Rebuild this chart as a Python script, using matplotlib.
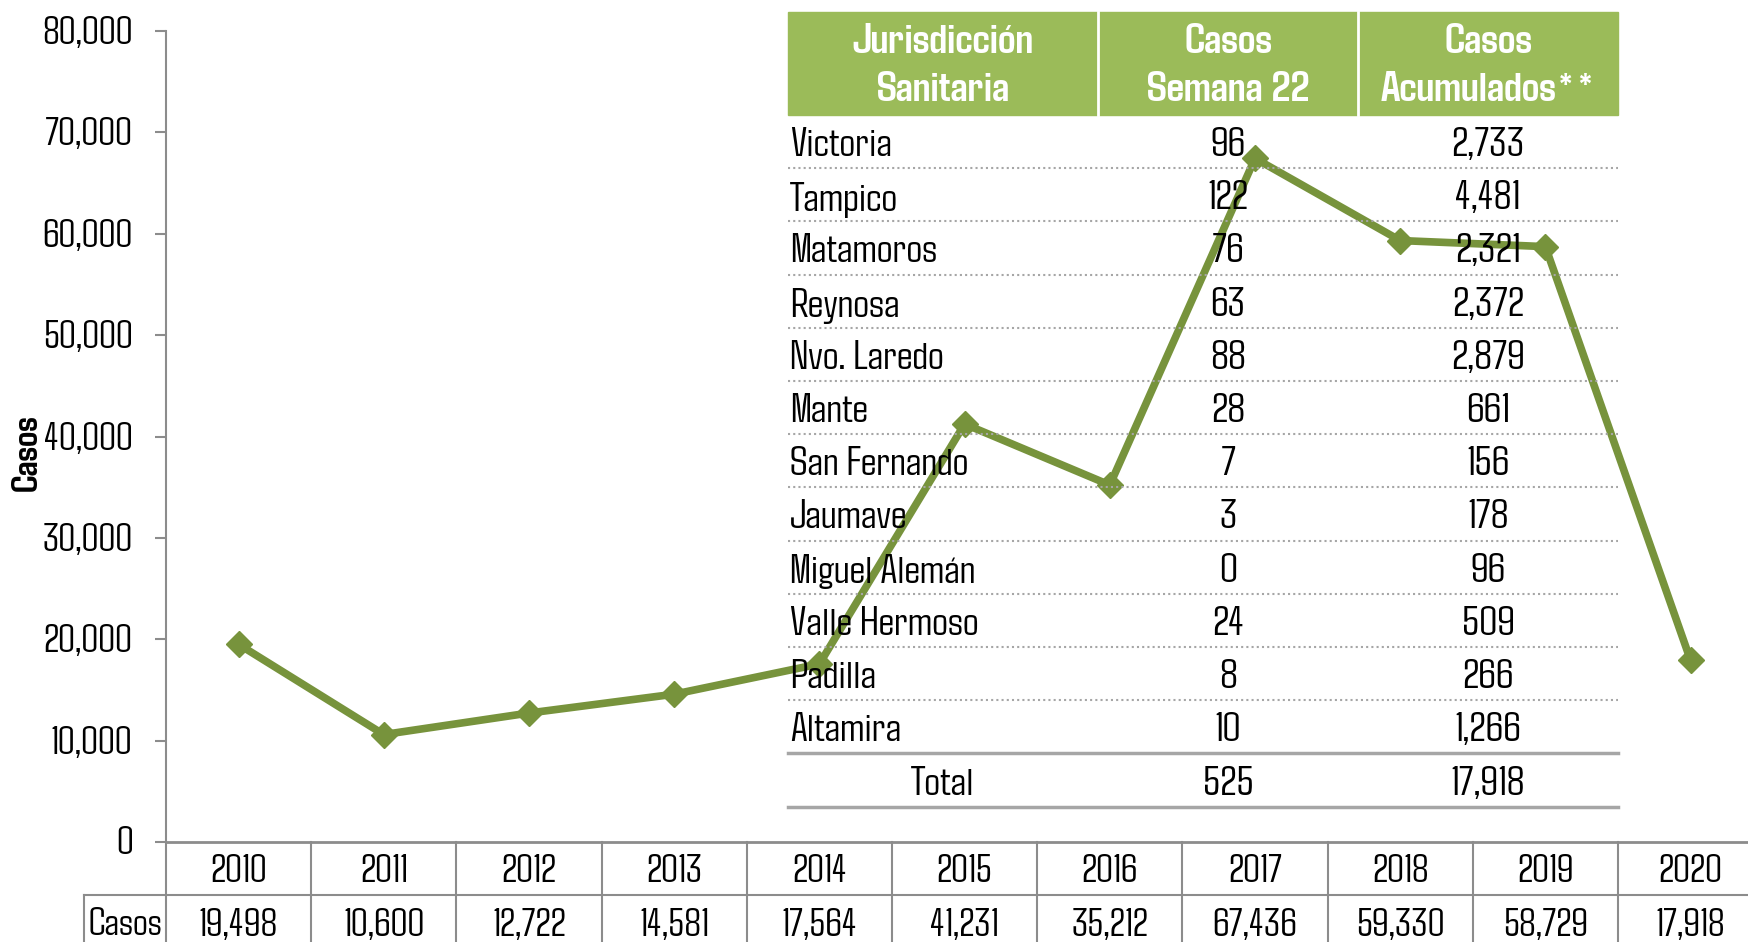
import matplotlib.pyplot as plt
from matplotlib.transforms import blended_transform_factory
from matplotlib.lines import Line2D
from matplotlib.patches import Rectangle

# --- data ---
years = [2010, 2011, 2012, 2013, 2014, 2015, 2016, 2017, 2018, 2019, 2020]
casos = [19498, 10600, 12722, 14581, 17564, 41231, 35212, 67436, 59330, 58729, 17918]

jurisdicciones = ['Victoria', 'Tampico', 'Matamoros', 'Reynosa', 'Nvo. Laredo', 'Mante',
                  'San Fernando', 'Jaumave', 'Miguel Alemán', 'Valle Hermoso', 'Padilla',
                  'Altamira']
semana22 = [96, 122, 76, 63, 88, 28, 7, 3, 0, 24, 8, 10]
acumulados = [2733, 4481, 2321, 2372, 2879, 661, 156, 178, 96, 509, 266, 1266]
encabezados = ['Jurisdicción\nSanitaria', 'Casos\nSemana 22', 'Casos\nAcumulados**']

# condensed face similar to the original, DejaVu as fallback
plt.rcParams['font.family'] = ['Agdasima', 'DejaVu Sans']

GREEN = '#77933C'
HEAD = '#9BBB59'
GRAY = '#8C8C8C'
W, H = 1748, 942
FS = 28      # axis / bottom table
FT = 30      # overlay table body
FH = 31      # overlay table header

fig = plt.figure(figsize=(W / 100, H / 100), dpi=100)


def fx(px):
    return px / W


def fy(py):
    return 1 - py / H


cell = 145.2
ax = fig.add_axes([fx(166), fy(842), len(years) * cell / W, (842 - 31) / H])
ax.set_xlim(-0.5, len(years) - 0.5)
ax.set_ylim(0, 80000)
ax.set_yticks(range(0, 80001, 10000))
ax.set_yticklabels([f'{v:,}' for v in range(0, 80001, 10000)])
ax.tick_params(axis='y', length=8, width=1.5, color=GRAY, pad=16, labelsize=FS)
ax.set_xticks([])
for s in ['top', 'right']:
    ax.spines[s].set_visible(False)
ax.spines['left'].set_color(GRAY)
ax.spines['left'].set_linewidth(1.5)
ax.spines['bottom'].set_color(GRAY)
ax.spines['bottom'].set_linewidth(2)
ax.set_ylabel('Casos', fontsize=27, fontweight='bold')
ax.yaxis.set_label_coords(-0.077, 0.48)

# --- overlay table (figure pixels) ---
tx0, tx1 = 788, 1618
c1, c2 = 1098, 1358
hy0, hy1 = 12, 115
rh = 53.2
dy = 5  # text sits a little below the row middle
fig.patches.append(Rectangle((fx(tx0), fy(hy1)), fx(tx1) - fx(tx0), fy(hy0) - fy(hy1),
                             transform=fig.transFigure, color=HEAD, zorder=1))
for cx in [c1, c2]:
    fig.lines.append(Line2D([fx(cx), fx(cx)], [fy(hy0), fy(hy1)], transform=fig.transFigure,
                            color='white', lw=2, zorder=2))
centers = [(tx0 + c1) / 2, (c1 + c2) / 2, (c2 + tx1) / 2]
for cx, t in zip(centers, encabezados):
    fig.text(fx(cx), fy((hy0 + hy1) / 2 + 3), t, color='white', fontsize=FH, fontweight='bold',
             ha='center', va='center', linespacing=1.45, zorder=3)

for i, (j, s, a) in enumerate(zip(jurisdicciones, semana22, acumulados)):
    yc = hy1 + rh * (i + 0.5) + dy
    fig.text(fx(tx0 + 2), fy(yc), j, fontsize=FT, ha='left', va='center', zorder=3)
    fig.text(fx(centers[1]), fy(yc), f'{s:,}', fontsize=FT, ha='center', va='center', zorder=3)
    fig.text(fx(centers[2]), fy(yc), f'{a:,}', fontsize=FT, ha='center', va='center', zorder=3)
    yl = hy1 + rh * (i + 1)
    if i < len(jurisdicciones) - 1:
        fig.lines.append(Line2D([fx(tx0), fx(tx1)], [fy(yl), fy(yl)], transform=fig.transFigure,
                                color='#A6A6A6', lw=1.5, ls=(0, (1, 1.5)), zorder=2))
    else:
        fig.lines.append(Line2D([fx(tx0), fx(tx1)], [fy(yl), fy(yl)], transform=fig.transFigure,
                                color='#A6A6A6', lw=2.5, zorder=2))

yt = hy1 + rh * len(jurisdicciones) + rh / 2 + dy
fig.text(fx(centers[0]), fy(yt), 'Total', fontsize=FT, ha='center', va='center')
fig.text(fx(centers[1]), fy(yt), f'{sum(semana22):,}', fontsize=FT, ha='center', va='center')
fig.text(fx(centers[2]), fy(yt), f'{sum(acumulados):,}', fontsize=FT, ha='center', va='center')
yb = hy1 + rh * (len(jurisdicciones) + 1)
fig.lines.append(Line2D([fx(tx0), fx(tx1)], [fy(yb), fy(yb)], transform=fig.transFigure,
                        color='#A6A6A6', lw=2.5, zorder=2))

# --- line ---
x = list(range(len(years)))
ax.plot(x, casos, color=GREEN, lw=5.5, marker='D', markersize=13, clip_on=False, zorder=10)

# --- bottom data table ---
tr = blended_transform_factory(ax.transData, ax.transAxes)
row = 53 / 811
off = 4 / 811
for k in range(len(years) + 1):
    ax.add_line(Line2D([k - 0.5, k - 0.5], [0, -2 * row], transform=tr, color=GRAY, lw=1.5,
                       clip_on=False))
left = -0.5 - 82 / cell
ax.add_line(Line2D([left, len(years) - 0.5], [-row, -row], transform=tr, color=GRAY, lw=1.5,
                   clip_on=False))
ax.add_line(Line2D([left, left], [-row, -2 * row], transform=tr, color=GRAY, lw=1.5, clip_on=False))
for k, (yr, c) in enumerate(zip(years, casos)):
    ax.text(k, -row / 2 - off, str(yr), transform=tr, ha='center', va='center', fontsize=FS)
    ax.text(k, -row * 1.5 - off, f'{c:,}', transform=tr, ha='center', va='center', fontsize=FS)
ax.text((left - 0.5) / 2, -row * 1.5 - off, 'Casos', transform=tr, ha='center', va='center',
        fontsize=FS)

fig.savefig('out.png', dpi=100)
